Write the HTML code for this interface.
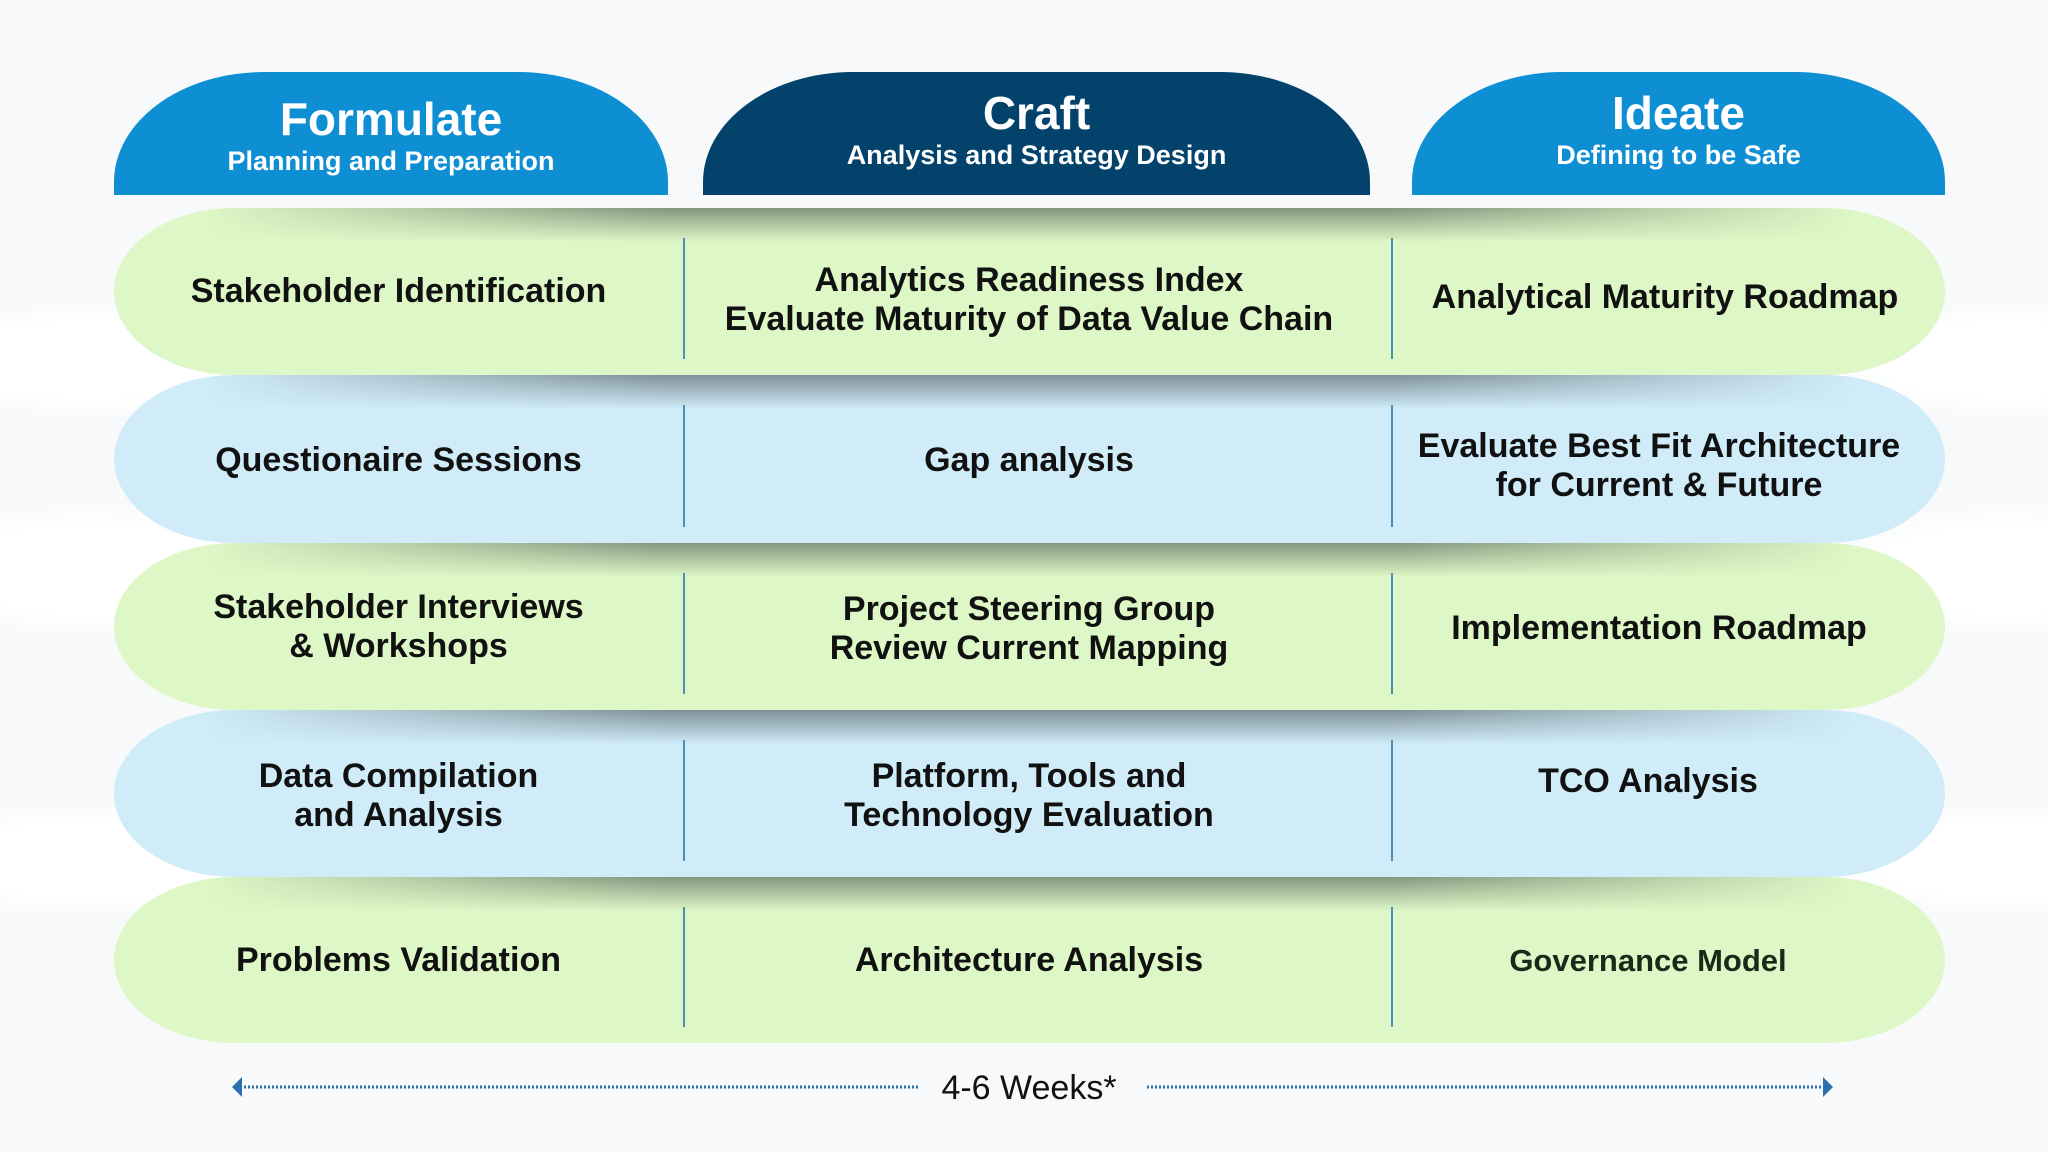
<!DOCTYPE html>
<html><head><meta charset="utf-8"><style>
*{margin:0;padding:0;box-sizing:border-box}
body{width:2048px;height:1152px;background:#f7f9fa;position:relative;overflow:hidden;font-family:"Liberation Sans",sans-serif}
.glow{position:absolute;border-radius:50%;background:radial-gradient(ellipse at center,#ffffff 0%,#ffffff 45%,rgba(255,255,255,0) 70%)}
.tab{position:absolute;top:72px;height:123px;color:#fff;text-align:center;border-radius:150px 150px 0 0/110px 110px 0 0}
.tab .t{font-weight:bold;font-size:46px;margin-top:16px;line-height:50px}
.tab .s{font-weight:bold;font-size:27px;line-height:30px;margin-top:2px}
.row{position:absolute;left:114px;width:1831px;border-radius:120px/50%;overflow:hidden}
.row .sh{position:absolute;left:0;right:0;top:0;height:34px;background:linear-gradient(180deg,rgba(60,70,70,.55),rgba(60,70,70,0));-webkit-mask:linear-gradient(90deg,transparent 5%,#000 30%,#000 70%,transparent 95%);mask:linear-gradient(90deg,transparent 5%,#000 30%,#000 70%,transparent 95%)}
.g{background:#def7c6}.b{background:#d0ecf9}
.cell{position:absolute;top:0;bottom:0;display:flex;align-items:center;justify-content:center;text-align:center;font-weight:bold;font-size:34px;line-height:39px;color:#111;white-space:nowrap}
.div{position:absolute;width:2px;background:#4d8db8;top:30px;bottom:16px}
</style></head><body>
<div class="glow" style="left:-120px;top:300px;width:420px;height:120px"></div>
<div class="glow" style="left:-120px;top:500px;width:420px;height:140px"></div>
<div class="glow" style="left:-120px;top:800px;width:420px;height:120px"></div>
<div class="glow" style="left:1800px;top:300px;width:420px;height:120px"></div>
<div class="glow" style="left:1800px;top:500px;width:420px;height:140px"></div>
<div class="glow" style="left:1800px;top:800px;width:420px;height:120px"></div>

<div class="tab" style="left:114px;width:554px;background:#0e8fd3"><div class="t" style="margin-top:22px">Formulate</div><div class="s">Planning and Preparation</div></div>
<div class="tab" style="left:703px;width:667px;background:#03426b"><div class="t">Craft</div><div class="s">Analysis and Strategy Design</div></div>
<div class="tab" style="left:1412px;width:533px;background:#0e8fd3"><div class="t">Ideate</div><div class="s">Defining to be Safe</div></div>

<div class="row g" style="top:208px;height:167px"><div class="sh"></div>
<div class="cell" style="left:0;width:569px">Stakeholder Identification</div>
<div class="div" style="left:569px"></div>
<div class="cell" style="left:571px;width:688px;padding-top:16px">Analytics Readiness Index<br>Evaluate Maturity of Data Value Chain</div>
<div class="div" style="left:1277px"></div>
<div class="cell" style="left:1279px;width:544px;padding-top:12px">Analytical Maturity Roadmap</div></div>

<div class="row b" style="top:375px;height:168px"><div class="sh"></div>
<div class="cell" style="left:0;width:569px;padding-top:2px">Questionaire Sessions</div>
<div class="div" style="left:569px"></div>
<div class="cell" style="left:571px;width:688px;padding-top:2px">Gap analysis</div>
<div class="div" style="left:1277px"></div>
<div class="cell" style="left:1279px;width:532px;padding-top:14px">Evaluate Best Fit Architecture<br>for Current &amp; Future</div></div>

<div class="row g" style="top:543px;height:167px"><div class="sh"></div>
<div class="cell" style="left:0;width:569px">Stakeholder Interviews<br>&amp; Workshops</div>
<div class="div" style="left:569px"></div>
<div class="cell" style="left:571px;width:688px;padding-top:4px">Project Steering Group<br>Review Current Mapping</div>
<div class="div" style="left:1277px"></div>
<div class="cell" style="left:1279px;width:532px;padding-top:4px">Implementation Roadmap</div></div>

<div class="row b" style="top:710px;height:167px"><div class="sh"></div>
<div class="cell" style="left:0;width:569px;padding-top:4px">Data Compilation<br>and Analysis</div>
<div class="div" style="left:569px"></div>
<div class="cell" style="left:571px;width:688px;padding-top:4px">Platform, Tools and<br>Technology Evaluation</div>
<div class="div" style="left:1277px"></div>
<div class="cell" style="left:1279px;width:510px;align-items:flex-start;padding-top:52px">TCO Analysis</div></div>

<div class="row g" style="top:877px;height:166px"><div class="sh"></div>
<div class="cell" style="left:0;width:569px">Problems Validation</div>
<div class="div" style="left:569px"></div>
<div class="cell" style="left:571px;width:688px">Architecture Analysis</div>
<div class="div" style="left:1277px"></div>
<div class="cell" style="left:1279px;width:510px;font-size:31px;color:#1a2a1a">Governance Model</div></div>

<svg width="2048" height="1152" style="position:absolute;left:0;top:0">
<line x1="240" y1="1087" x2="918" y2="1087" stroke="#2b6fb0" stroke-width="3" stroke-dasharray="2 2"/>
<line x1="1147" y1="1087" x2="1822" y2="1087" stroke="#2b6fb0" stroke-width="3" stroke-dasharray="2 2"/>
<polygon points="232,1087 242,1077 242,1097" fill="#2b6fb0"/>
<polygon points="1833,1087 1823,1077 1823,1097" fill="#2b6fb0"/>
<text x="1029" y="1099" text-anchor="middle" font-family="Liberation Sans" font-size="34" fill="#111">4-6 Weeks*</text>
</svg>
</body></html>
